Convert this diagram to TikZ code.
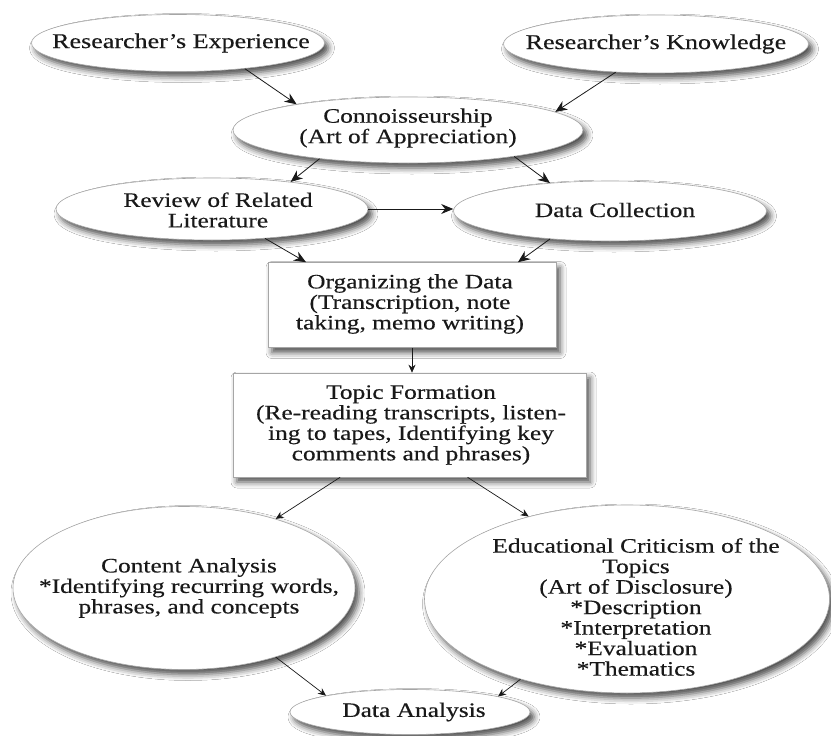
\documentclass[tikz,border=0pt]{standalone}
\usepackage{fontspec}
\setmainfont{Liberation Serif}[FakeStretch=1.24,FakeBold=0.3]
\usetikzlibrary{shapes.geometric,arrows.meta,shadows.blur}
\begin{document}
\begin{tikzpicture}[x=1pt,y=-1pt,
  base/.style={draw=black!35, line width=0.6pt, fill=white,
    blur shadow={shadow xshift=4pt,shadow yshift=-5pt,shadow blur radius=6pt,shadow opacity=70},
    inner sep=0pt},
  oval/.style={base, ellipse},
  box/.style={base, rectangle},
  txt/.style={align=center, inner sep=0pt, text=black!90, font=\fontsize{20.5}{20.5}\selectfont},
  bigtxt/.style={txt, font=\fontsize{21}{21}\selectfont},
  arr/.style={draw=black!90, line width=0.8pt, -{Stealth[length=12pt,width=10pt]}},
  arrs/.style={draw=black!90, line width=0.7pt, -{Stealth[length=8pt,width=7pt]}}
]
\useasboundingbox[fill=white] (0,0) rectangle (831,736);

% shapes
\node[oval, minimum width=293, minimum height=57] (exp) at (178,43) {};
\node[oval, minimum width=305, minimum height=58] (know) at (656,44) {};
\node[oval, minimum width=350, minimum height=66] (conn) at (408,130) {};
\node[oval, minimum width=312, minimum height=62] (rev) at (212,209) {};
\node[oval, minimum width=313, minimum height=60] (dc) at (610,211) {};
\node[box, minimum width=288, minimum height=85] (org) at (412,305) {};
\node[box, minimum width=353, minimum height=104] (topic) at (409.5,425) {};
\node[oval, minimum width=342, minimum height=163] (ca) at (184,588) {};
\node[oval, minimum width=405, minimum height=188] (ec) at (627,599) {};
\node[oval, minimum width=240, minimum height=45] (da) at (410,712) {};

% texts
\node[bigtxt] (expt) at (181,43) {Researcher’s Experience};
\node[bigtxt] (knowt) at (656,44) {Researcher’s Knowledge};
\node[txt] (connt) at (408,128) {Connoisseurship\\(Art of Appreciation)};
\node[txt] (revt) at (218,210) {Review of Related\\Literature};
\node[txt] (dct) at (615,210) {Data Collection};
\node[txt] (orgt) at (410,304) {Organizing the Data\\(Transcription, note\\taking, memo writing)};
\node[txt] (topict) at (411,425) {Topic Formation\\(Re-reading transcripts, listen-\\ing to tapes, Identifying key\\comments and phrases)};
\node[txt] (cat) at (189,588) {Content Analysis\\*Identifying recurring words,\\phrases, and concepts};
\node[txt] (ect) at (636,607) {Educational Criticism of the\\Topics\\(Art of Disclosure)\\*Description\\*Interpretation\\*Evaluation\\*Thematics};
\node[txt] (dat) at (414,712) {Data Analysis};

% connectors
\draw[arr] (exp.-21) -- (conn.167);
\draw[arr] (know.-145) -- (conn.7);
\draw[arr] (conn.-162) -- (rev.19);
\draw[arr] (conn.-14) -- (dc.155);
\draw[arr] (rev.east) -- (rev.east -| dc.west);
\draw[arr] (rev.-29) -- (org.158);
\draw[arr] (dc.-155) -- (org.22);
\draw[arrs] (org.south) -- (org.south |- topic.north);
\draw[arrs] (topic.-143.6) -- (ca.37);
\draw[arrs] (topic.-42.6) -- (ec.140);
\draw[arrs] (ca.-37) -- (da.169);
\draw[arrs] (ec.-143) -- (da.10);
\end{tikzpicture}
\end{document}
